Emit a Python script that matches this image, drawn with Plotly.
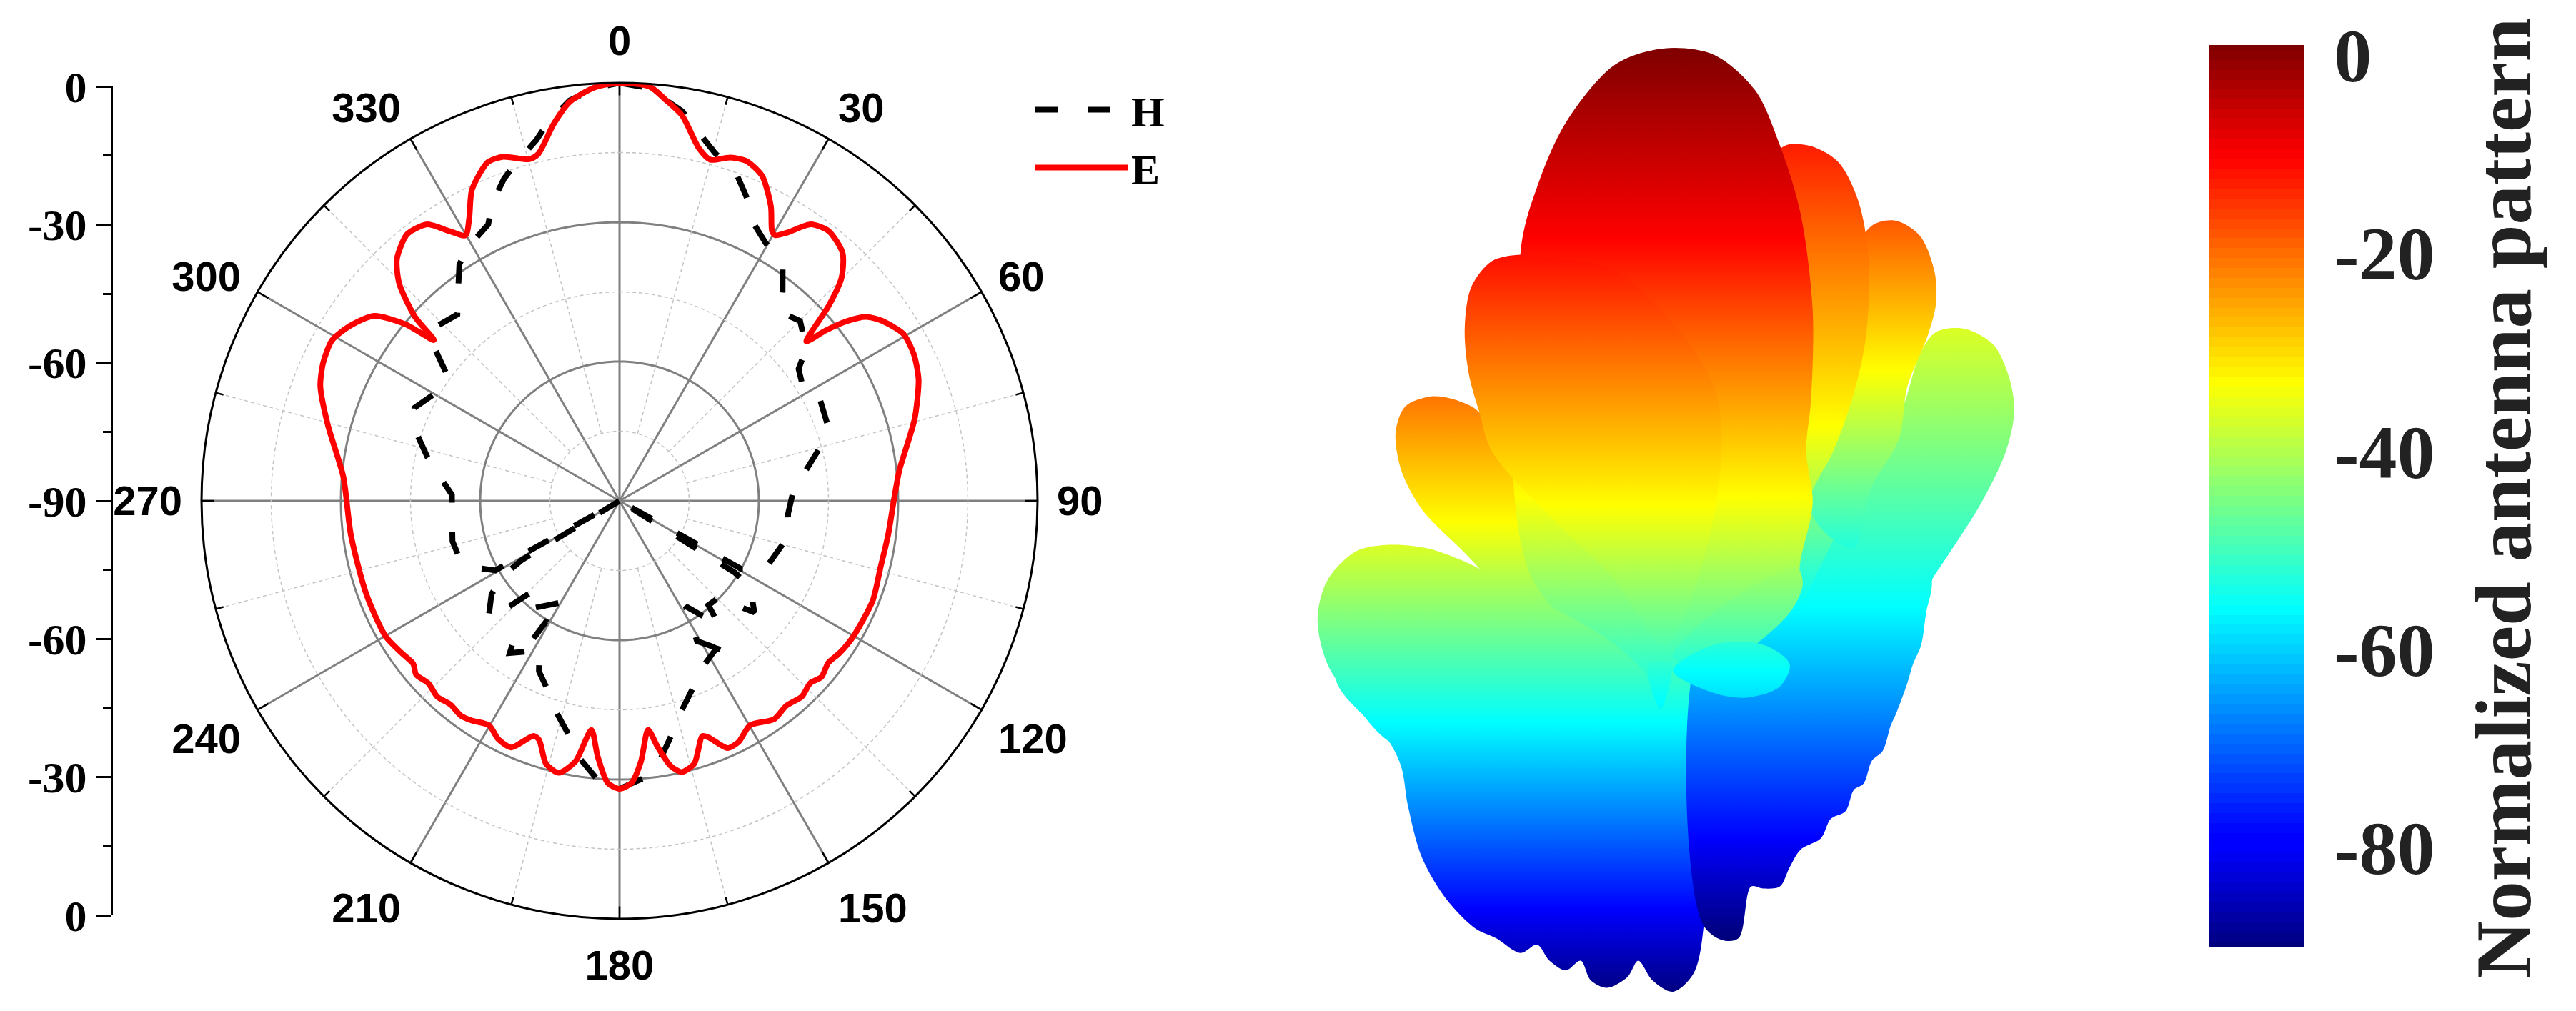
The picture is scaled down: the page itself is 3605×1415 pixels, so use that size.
import plotly.graph_objects as go

W, H = 3605, 1415

# ---------- polar pattern data (angle in degrees, level in dB) ----------
e_theta = [0,4.2,6.4,9.2,12.7,14.9,17.9,20.5,23.7,27.2,29.5,30.4,32,34.7,37.8,42,44.9,47,49.5,50.4,51.7,53.3,55.5,59.5,63.5,67.9,74.4,80,83.8,89.7,97.3,104.4,111.5,120,124.7,127.8,131.1,133.7,137,140.9,144.7,149.8,153.7,156.4,159.4,160.6,164.1,167.1,169.1,171.2,172.9,175.3,177.6,180,182.4,184.9,187,189.6,192.6,195.6,198.6,200.1,203.7,206.9,210.2,213.9,216.5,219.6,223,226.3,229.5,231.7,235,240,249.8,262.7,275,284.6,291,295,299.2,303,307,309.5,310.9,312,314.6,317.4,321.5,325.2,327.8,329.9,332.1,334.6,338.7,341.3,345.1,346.8,350.1,352.9,356.6,360]
e_level = [0,-0.6,-2.9,-5.9,-12.2,-14,-12.3,-11.9,-13.6,-18.7,-23.3,-23.7,-21.9,-17.6,-16.5,-18.2,-22.3,-28.4,-37.1,-32.5,-27.5,-23.7,-21.5,-19.1,-19.2,-20.5,-24,-27.5,-29.4,-30.9,-31.7,-32,-31.4,-31.8,-32.4,-33.1,-32.3,-33.2,-32.4,-33.1,-32.4,-34.1,-32.1,-31.9,-35.6,-36.3,-31.2,-30.1,-31.9,-36.4,-40.3,-33.7,-29.2,-28,-29.2,-34.8,-40.3,-33.1,-30,-31.2,-35.7,-36.1,-32,-32.4,-34.1,-33,-32.5,-33,-32.4,-33.1,-32.4,-33.4,-32.8,-31.8,-31.9,-31.7,-30.3,-25.1,-21,-19.6,-19.1,-20.8,-23.8,-30.1,-37.1,-30.7,-23.4,-19.2,-16.6,-17.5,-21.4,-23.9,-20.9,-15.9,-11.8,-11.8,-13.9,-13.3,-7.6,-3.4,-0.8,0]

h_theta = [0,4,9.1,12.5,15.3,19.8,22.6,26,29.4,34.9,37.8,40.6,45.1,50.8,53.6,58.5,62.4,70.1,74.8,80.5,86.1,94.4,101.7,115.1,119.2,120,121.9,123.4,129.6,134.6,139.6,141.3,147.9,151.1,143.7,146.7,153.7,158.6,163.5,167.1,171,173.8,180,183.9,188.9,191.4,196.4,200.2,205.3,208.2,215.8,217.8,212,211.3,208.8,210.3,219.5,223.8,226.2,228.1,233.9,237.3,238.8,240,241,240.7,244.7,250.7,256.4,265.2,272.1,278.1,282.8,289.5,294.4,301.8,306.1,309.7,313.1,319,322.1,325.9,329.1,334.6,336.9,340.3,343,347,349.3,352.9,356.6,360]
h_level = [0,-0.9,-5,-9.3,-12.3,-15.4,-19,-23.8,-26.1,-28.6,-32.7,-36.6,-35.1,-38.1,-42.1,-43.6,-41.5,-42.3,-45.1,-49.2,-52.4,-53.6,-52.8,-55.4,-59.9,-90,-60.8,-56.3,-52.3,-60.2,-60.5,-55.6,-63.2,-55.5,-49.3,-52,-49.9,-46.7,-42.9,-38.8,-33.7,-30.5,-28,-29.1,-34,-37.5,-42.3,-46,-49.4,-53.4,-49.6,-53.4,-55,-59.5,-59.6,-64.6,-59.9,-63.2,-57.2,-52.1,-55.9,-60.4,-65.5,-90,-66,-59.4,-56.2,-53.4,-53,-53.8,-53.9,-50.7,-47.6,-43.1,-41.5,-44.6,-44.1,-38.1,-35.4,-36.8,-33.4,-28.5,-26.4,-24.1,-20.2,-16.3,-13.9,-10.3,-7.1,-3.1,-1,0]

angle_ticks = list(range(0, 360, 30))
angle_minor = list(range(15, 360, 30))
major_rings = [-60, -30]
minor_rings = [-75, -45, -15]
side_axis_ticks = [90, 60, 30, 0, -30, -60, -90]
side_axis_labels = ["0", "-30", "-60", "-90", "-60", "-30", "0"]

# ---------- 3D pattern view: lobe outlines on a hidden plane, with the
# height on that plane at which each colour-map stop is reached ----------
# stops: dark red, red, yellow, cyan, blue, dark blue
body_left_x = [60,125,140,148,165,195,230,255,285,305,320,340,358,370,390,415,428,445,470,495,508,510,460,300,120,60]
body_left_y = [1050,1150,1190,1250,1330,1395,1440,1455,1478,1465,1490,1505,1490,1520,1532,1515,1490,1520,1538,1510,1430,1000,900,900,950,1050]
body_left_c = [75,370,800,1120,1410,1540]

body_right_x = [500,505,530,550,565,580,600,612,625,650,662,680,690,702,712,725,735,742,755,762,772,778,785,740,640,500]
body_right_y = [1000,1430,1458,1455,1375,1378,1375,1345,1318,1300,1270,1258,1225,1215,1180,1165,1125,1105,1060,1030,1000,950,900,720,700,1000]
body_right_c = [0,200,640,940,1300,1450]

lobe3_x = [770,790,825,860,880,885,875,845,800,785,770,700,620,700,750,770]
lobe3_y = [550,515,510,535,590,640,700,780,870,900,960,1000,1000,750,630,550]
lobe3_c = [-200,50,440,940,1300,1450]

lobe2_x = [660,710,740,770,788,790,780,755,745,710,690,640,660]
lobe2_y = [500,352,342,365,420,470,520,600,680,760,850,800,500]
lobe2_c = [0,220,575,890,1250,1400]

lobe1_x = [600,632,670,695,708,705,690,665,640,620,600,600]
lobe1_y = [232,225,250,310,400,520,610,700,760,850,800,232]
lobe1_c = [-50,170,660,1000,1300,1450]

left_b_x = [200,175,145,133,140,165,215,290,410,450,470,330,235,225,200]
left_b_y = [618,615,630,670,730,790,855,950,1040,1050,1000,770,640,630,618]
left_b_c = [100,450,810,1100,1400,1540]

left_c_x = [170,125,85,50,38,50,85,125,200,350,440,400,260,215,170]
left_c_y = [850,845,855,900,960,1030,1095,1150,1180,1120,1060,1000,900,870,850]
left_c_c = [300,500,800,1120,1410,1540]

main_x = [400,460,520,570,600,625,640,638,632,640,625,620,560,450,300,285,305,340,400]
main_y = [100,75,85,140,225,330,480,620,700,780,870,920,990,1040,900,390,290,190,100]
main_c = [75,370,770,1100,1390,1530]

left_a_x = [285,250,225,217,222,235,250,320,400,460,520,520,400,310,285]
left_a_y = [395,405,445,510,580,640,700,800,900,1000,800,600,420,400,395]
left_a_c = [90,375,785,1100,1400,1540]

bud_upper_x = [620,628,615,580,530,470,520,620]
bud_upper_y = [880,905,945,990,1030,1020,950,880]
bud_upper_c = [75,370,770,1080,1390,1530]

bud_lower_x = [470,520,580,612,600,560,520,470]
bud_lower_y = [1040,1000,1000,1030,1065,1082,1075,1040]
bud_lower_c = [75,370,760,1040,1390,1530]

bud_spike_x = [440,455,468,440]
bud_spike_y = [1030,1100,1030,1030]
bud_spike_c = [75,370,760,1090,1390,1530]

lobes = [
    (body_left_x, body_left_y, body_left_c),
    (body_right_x, body_right_y, body_right_c),
    (lobe3_x, lobe3_y, lobe3_c),
    (lobe2_x, lobe2_y, lobe2_c),
    (lobe1_x, lobe1_y, lobe1_c),
    (left_b_x, left_b_y, left_b_c),
    (main_x, main_y, main_c),
    (left_a_x, left_a_y, left_a_c),
    (left_c_x, left_c_y, left_c_c),
    (bud_upper_x, bud_upper_y, bud_upper_c),
    (bud_lower_x, bud_lower_y, bud_lower_c),
    (bud_spike_x, bud_spike_y, bud_spike_c),
]

colorbar_levels = list(range(-90, 2))
colorbar_ticks = [0, -20, -40, -60, -80]
colorbar_labels = ["0", "-20", "-40", "-60", "-80"]
colorbar_title = "Normalized antenna pattern"

stop_colors = ["#7f0000", "#ff0000", "#ffff00", "#00ffff", "#0000ff", "#00007f"]
jet = [[0, "#00007f"], [0.11, "#0000ff"], [0.125, "#0000ff"], [0.375, "#00ffff"],
       [0.625, "#ffff00"], [0.875, "#ff0000"], [1, "#7f0000"]]

SERIF = "Liberation Serif"
SANS = "Liberation Sans"
GREY = "#808080"
LIGHT = "#c4c4c4"


def px_x(a):
    return a / W


def px_y(a):
    return 1 - a / H


fig = go.Figure()

# ---------- polar guides ----------
ring_theta = list(range(0, 361, 2))
for lvl, colour, width, dash in [(v, LIGHT, 1.5, "5px,4px") for v in minor_rings] + \
                                [(v, GREY, 3, "solid") for v in major_rings]:
    fig.add_trace(go.Scatterpolar(theta=ring_theta, r=[lvl] * len(ring_theta), mode="lines",
                                  line=dict(color=colour, width=width, dash=dash),
                                  showlegend=False, hoverinfo="skip", subplot="polar"))

sp_t, sp_r = [], []
for a in angle_minor:
    sp_t += [a, a, None]
    sp_r += [-75, 0, None]
fig.add_trace(go.Scatterpolar(theta=sp_t, r=sp_r, mode="lines",
                              line=dict(color=LIGHT, width=1.5, dash="5px,4px"),
                              showlegend=False, hoverinfo="skip", subplot="polar"))
tk_t, tk_r = [], []
for a in angle_ticks:
    tk_t += [a, a, None]
    tk_r += [-2.7, 0, None]
for a in angle_minor:
    tk_t += [a, a, None]
    tk_r += [-1.7, 0, None]
fig.add_trace(go.Scatterpolar(theta=tk_t, r=tk_r, mode="lines",
                              line=dict(color="black", width=2.5),
                              showlegend=False, hoverinfo="skip", subplot="polar"))

fig.add_trace(go.Scatterpolar(theta=h_theta, r=h_level, mode="lines", name="H", subplot="polar",
                              line=dict(color="black", width=8, dash="32px,41px"),
                              cliponaxis=False, hoverinfo="skip"))
fig.add_trace(go.Scatterpolar(theta=e_theta, r=e_level, mode="lines", name="E", subplot="polar",
                              line=dict(color="#ff0000", width=8, shape="spline", smoothing=0.7),
                              cliponaxis=False, hoverinfo="skip"))

# ---------- side scale (drawn on its own axis) ----------
fig.add_trace(go.Scatter(x=[0], y=[0], mode="markers", marker=dict(opacity=0),
                         xaxis="x", yaxis="y", showlegend=False, hoverinfo="skip"))

# ---------- 3D pattern view ----------
for lx, ly, lc in lobes:
    a, b = lc[0], lc[-1]
    scale = [[(v - a) / (b - a), c] for v, c in zip(lc, stop_colors)]
    fig.add_trace(go.Scatter(x=lx, y=ly, mode="lines", fill="toself",
                             line=dict(width=0, shape="spline", smoothing=0.9),
                             fillgradient=dict(type="vertical", colorscale=scale, start=a, stop=b),
                             xaxis="x2", yaxis="y2", showlegend=False, hoverinfo="skip"))

# ---------- colour bar: a one-column heatmap on its own axis ----------
fig.add_trace(go.Heatmap(x=[0], y=colorbar_levels, z=[[v] for v in colorbar_levels],
                         zmin=-90, zmax=1, colorscale=jet, showscale=False,
                         xaxis="x3", yaxis="y3", hoverinfo="skip"))

fig.update_layout(
    width=W, height=H, autosize=False, margin=dict(l=0, r=0, t=0, b=0, pad=0),
    paper_bgcolor="white", plot_bgcolor="rgba(0,0,0,0)",
    polar=dict(
        domain=dict(x=[px_x(867 - 585), px_x(867 + 585)], y=[px_y(701 + 585), px_y(701 - 585)]),
        bgcolor="rgba(0,0,0,0)",
        radialaxis=dict(range=[-90, 0], tickvals=major_rings, showgrid=False, showline=False,
                        showticklabels=False, ticks=""),
        angularaxis=dict(direction="clockwise", rotation=90, tickvals=angle_ticks,
                         ticktext=[str(a) for a in angle_ticks],
                         gridcolor=GREY, gridwidth=3, showline=True, linecolor="black", linewidth=3,
                         ticks="outside", ticklen=14, tickcolor="rgba(0,0,0,0)",
                         tickfont=dict(family=SANS, size=58, color="black", weight=700)),
    ),
    xaxis=dict(domain=[px_x(158), px_x(168)], visible=False, range=[0, 1], automargin=False),
    yaxis=dict(domain=[px_y(1281), px_y(121)], range=[-90, 90], anchor="x", side="left", automargin=False,
               tickvals=side_axis_ticks, ticktext=side_axis_labels, showgrid=False, zeroline=False,
               showline=True, linecolor="black", linewidth=3,
               ticks="outside", ticklen=21, tickwidth=3, tickcolor="black",
               minor=dict(tickvals=[75, 45, 15, -15, -45, -75], ticks="outside", ticklen=11,
                          tickwidth=3, tickcolor="black", showgrid=False),
               tickfont=dict(family=SERIF, size=62, color="black", weight=700)),
    xaxis2=dict(domain=[px_x(1800), 1], range=[0, 1568], visible=False, automargin=False),
    yaxis2=dict(domain=[0, 1], range=[1568, 0], visible=False, automargin=False),
    xaxis3=dict(domain=[px_x(3092), px_x(3224)], visible=False, automargin=False),
    yaxis3=dict(domain=[px_y(1325), px_y(63)], range=[-90, 1], anchor="x3", side="right", automargin=False,
                tickvals=colorbar_ticks, ticktext=colorbar_labels, showgrid=False, zeroline=False,
                showline=False, ticks="outside", ticklen=20, tickcolor="rgba(0,0,0,0)",
                tickfont=dict(family=SERIF, size=106, color="#222222", weight=700)),
    legend=dict(x=px_x(1444), xanchor="left", y=px_y(108), yanchor="top", bgcolor="rgba(0,0,0,0)",
                borderwidth=0, itemwidth=129, traceorder="normal",
                font=dict(family=SERIF, size=60, color="black", weight=700)),
    annotations=[dict(text=colorbar_title, textangle=-90, xref="paper", yref="paper",
                      x=px_x(3503), y=px_y(697), xanchor="center", yanchor="middle", showarrow=False,
                      font=dict(family=SERIF, size=111, color="#222222", weight=700))],
)

fig.write_html("out.html", config=dict(displayModeBar=False),
               post_script="document.body.style.margin='0';")
